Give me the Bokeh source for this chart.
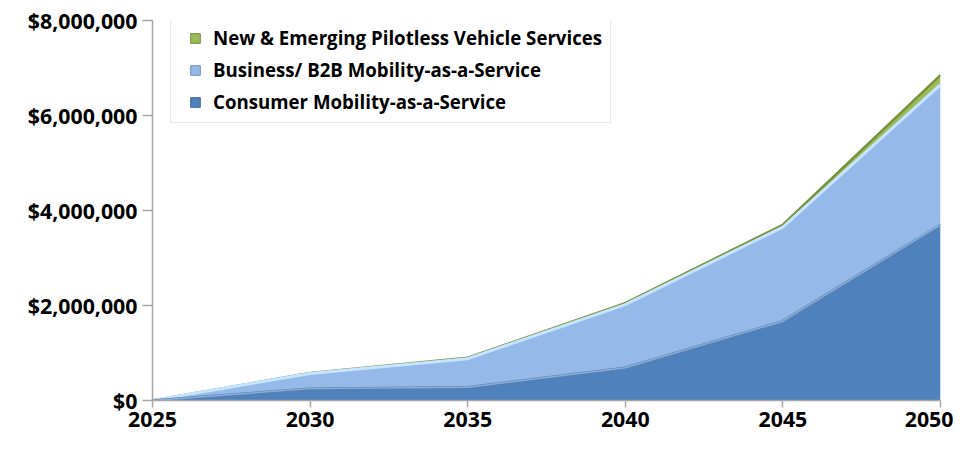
from bokeh.plotting import figure
from bokeh.models import Range1d, FixedTicker, NumeralTickFormatter, Legend, LegendItem, ColumnDataSource
from bokeh.embed import file_html
from bokeh.resources import INLINE

years = [2025, 2030, 2035, 2040, 2045, 2050]
consumer = [0, 250000, 280000, 690000, 1670000, 3700000]
business = [0, 320000, 600000, 1330000, 1980000, 2950000]
emerging = [0, 10000, 20000, 30000, 50000, 200000]
series_names = ["Consumer Mobility-as-a-Service", "Business/ B2B Mobility-as-a-Service",
                "New & Emerging Pilotless Vehicle Services"]
y_ticks = [0, 2000000, 4000000, 6000000, 8000000]

c_top = [a for a in consumer]
b_top = [a + b for a, b in zip(consumer, business)]
e_top = [a + b + c for a, b, c in zip(consumer, business, emerging)]
zeros = [0] * len(years)
src = ColumnDataSource(dict(x=years, z=zeros, c=c_top, b=b_top, e=e_top))

FONT = "Open Sans"
p = figure(width=953, height=433, output_backend="svg", toolbar_location=None,
           x_range=Range1d(2025, 2050), y_range=Range1d(0, 8000000),
           min_border_left=152, min_border_right=13, min_border_top=20, min_border_bottom=33)
p.outline_line_color = None
p.grid.visible = False

p.varea(x="x", y1="b", y2="e", source=src, fill_color="#9BBB59")
p.varea(x="x", y1="c", y2="b", source=src, fill_color="#95B9E9")
p.varea(x="x", y1="z", y2="c", source=src, fill_color="#4F81BD")
# edges (bevel look)
p.line(x="x", y="e", source=src, line_color="#77933C", line_width=2.5)
p.line(x="x", y="b", source=src, line_color="#C6E4FF", line_width=3)
p.line(x="x", y="c", source=src, line_color="#6A7A8C", line_width=2.5)
p.line(x="x", y="c", source=src, line_color="#7FB2EC", line_width=1.5)

# legend proxies (square swatches), no visible point in the plot
proxy = ColumnDataSource(dict(x=[float("nan")], y=[float("nan")]))
l_e = p.scatter(x="x", y="y", source=proxy, marker="square", fill_color="#9BBB59", line_color="#6F8A3A")
l_b = p.scatter(x="x", y="y", source=proxy, marker="square", fill_color="#95B9E9", line_color="#6F8FC0")
l_c = p.scatter(x="x", y="y", source=proxy, marker="square", fill_color="#4F81BD", line_color="#3A6597")

for ax in (p.xaxis[0], p.yaxis[0]):
    ax.axis_line_color = "#A6A6A6"
    ax.axis_line_width = 1.5
    ax.major_tick_line_color = "#A6A6A6"
    ax.major_tick_line_width = 1.5
    ax.major_tick_in = 0
    ax.minor_tick_line_color = None
    ax.major_label_text_font = FONT
    ax.major_label_text_font_style = "bold"
    ax.major_label_text_font_size = "16pt"
    ax.major_label_text_color = "#000000"

p.xaxis.ticker = FixedTicker(ticks=years)
p.xaxis.major_tick_out = 7
p.xaxis.major_label_standoff = 4
p.yaxis.ticker = FixedTicker(ticks=y_ticks)
p.yaxis.formatter = NumeralTickFormatter(format="$0,0")
p.yaxis.major_tick_out = 10
p.yaxis.major_label_standoff = 5

legend = Legend(items=[LegendItem(label=series_names[2], renderers=[l_e]),
                       LegendItem(label=series_names[1], renderers=[l_b]),
                       LegendItem(label=series_names[0], renderers=[l_c])],
                location=(18, 277), orientation="vertical")
legend.glyph_width = 32
legend.glyph_height = 24
legend.label_height = 24
legend.spacing = 7
legend.padding = 8
legend.margin = 0
legend.label_text_font = FONT
legend.label_text_font_style = "bold"
legend.label_text_font_size = "14pt"
legend.label_text_color = "#000000"
legend.label_standoff = 2
legend.border_line_color = "#D0D0D0"
legend.border_line_width = 1
legend.background_fill_alpha = 1
p.add_layout(legend, "center")

open("out.html", "w").write(file_html(p, INLINE))
